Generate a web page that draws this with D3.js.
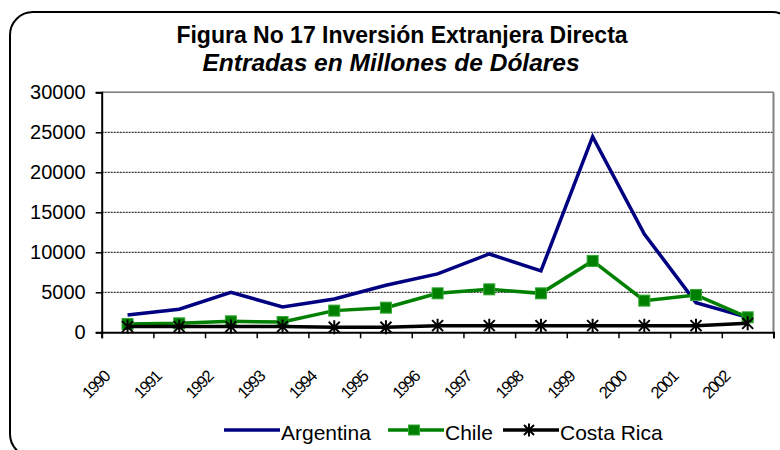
<!DOCTYPE html>
<html>
<head>
<meta charset="utf-8">
<script src="https://cdn.jsdelivr.net/npm/d3@7"></script>
<style>
  body { margin: 0; background: #fff; }
  svg { display: block; font-family: "Liberation Sans", Arial, sans-serif; }
</style>
</head>
<body>
<div id="chart"></div>
<script>
const years = ["1990","1991","1992","1993","1994","1995","1996","1997","1998","1999","2000","2001","2002"];
const argentina = [2170, 2880, 5000, 3170, 4170, 5880, 7300, 9790, 7670, 24460, 12290, 3710, 1870];
const chile = [1040, 1120, 1370, 1290, 2710, 3080, 4870, 5370, 4870, 8920, 3960, 4670, 1870];
const costaRica = [710, 710, 710, 710, 630, 630, 830, 830, 830, 830, 830, 830, 1120];
const yTicks = [0, 5000, 10000, 15000, 20000, 25000, 30000];
const seriesNames = ["Argentina", "Chile", "Costa Rica"];

const width = 780, height = 450;
const plot = { left: 101.7, right: 773.5, top: 92.3, bottom: 332.3 };

const svg = d3.select("#chart").append("svg")
    .attr("width", width)
    .attr("height", height);

// outer frame with rounded corners
svg.append("rect")
    .attr("x", 10).attr("y", 12)
    .attr("width", 785).attr("height", 445)
    .attr("rx", 23).attr("ry", 23)
    .attr("fill", "#fff")
    .attr("stroke", "#000")
    .attr("stroke-width", 2);

// titles
svg.append("text")
    .attr("x", 402).attr("y", 43)
    .attr("text-anchor", "middle")
    .attr("font-size", "23px")
    .attr("font-weight", "bold")
    .text("Figura No 17 Inversión Extranjera Directa");

svg.append("text")
    .attr("x", 391).attr("y", 71)
    .attr("text-anchor", "middle")
    .attr("font-size", "24.5px")
    .attr("font-weight", "bold")
    .attr("font-style", "italic")
    .text("Entradas en Millones de Dólares");

const x = d3.scaleBand().domain(years).range([plot.left, plot.right]).padding(0);
const xEdge = d3.scaleLinear().domain([0, years.length]).range([plot.left, plot.right]);
const y = d3.scaleLinear().domain([0, 30000]).range([plot.bottom, plot.top]);
const cx = d => x(d) + x.bandwidth() / 2;

// gridlines
svg.append("g")
    .selectAll("line")
    .data(yTicks.filter(t => t > 0))
    .enter().append("line")
    .attr("x1", plot.left).attr("x2", plot.right)
    .attr("y1", d => y(d)).attr("y2", d => y(d))
    .attr("stroke", d => d === 30000 ? "#808080" : "#000")
    .attr("stroke-width", 1)
    .attr("stroke-dasharray", d => d === 30000 ? null : "2,1");

// plot border right/top in gray
svg.append("line")
    .attr("x1", plot.right).attr("x2", plot.right)
    .attr("y1", plot.top).attr("y2", plot.bottom)
    .attr("stroke", "#808080").attr("stroke-width", 2);
svg.append("line")
    .attr("x1", plot.left).attr("x2", plot.right)
    .attr("y1", plot.top).attr("y2", plot.top)
    .attr("stroke", "#808080").attr("stroke-width", 1.5);

// y axis
const yAxis = svg.append("g")
    .attr("transform", `translate(${plot.left},0)`)
    .call(d3.axisLeft(y).tickValues(yTicks).tickSize(6).tickPadding(10).tickFormat(d3.format("d")));
yAxis.select(".domain").attr("stroke-width", 2);
yAxis.selectAll(".tick line").attr("stroke-width", 1.5);
yAxis.selectAll("text")
    .attr("font-size", "20px")
    .attr("font-family", "Liberation Sans, Arial, sans-serif")
    .attr("fill", "#000");

// x axis (ticks between categories)
const xAxis = svg.append("g")
    .attr("transform", `translate(0,${plot.bottom})`)
    .call(d3.axisBottom(xEdge).tickValues(d3.range(0, years.length + 1)).tickSize(6).tickFormat(""));
xAxis.select(".domain").attr("stroke-width", 2);
xAxis.selectAll(".tick line").attr("stroke-width", 1.5);

svg.append("g")
    .selectAll("text")
    .data(years)
    .enter().append("text")
    .attr("transform", d => `translate(${cx(d) - 17},378) rotate(-45)`)
    .attr("text-anchor", "end")
    .attr("font-size", "16.5px")
    .attr("letter-spacing", "-1.6px")
    .text(d => d);

// series lines
const line = d3.line().x((d, i) => cx(years[i])).y(d => y(d));

svg.append("path").datum(argentina)
    .attr("d", line).attr("fill", "none")
    .attr("stroke", "#000080").attr("stroke-width", 3.5).attr("stroke-linejoin", "miter");

svg.append("path").datum(chile)
    .attr("d", line).attr("fill", "none")
    .attr("stroke", "#008000").attr("stroke-width", 3.5);

svg.append("g").selectAll("rect")
    .data(chile)
    .enter().append("rect")
    .attr("x", (d, i) => cx(years[i]) - 5.5)
    .attr("y", d => y(d) - 5.5)
    .attr("width", 11).attr("height", 11)
    .attr("fill", "#008000")
    .attr("stroke", "#33a833").attr("stroke-width", 1);

svg.append("path").datum(costaRica)
    .attr("d", line).attr("fill", "none")
    .attr("stroke", "#000").attr("stroke-width", 3.5);

function starPath(px, py, r) {
    return `M${px - r},${py - r}L${px + r},${py + r}M${px + r},${py - r}L${px - r},${py + r}M${px},${py - r - 1.5}L${px},${py + r + 1.5}`;
}

svg.append("g").selectAll("path")
    .data(costaRica)
    .enter().append("path")
    .attr("d", (d, i) => starPath(cx(years[i]), y(d), 5.5))
    .attr("stroke", "#000").attr("stroke-width", 2).attr("fill", "none");

// legend
const legendItems = [
    { name: seriesNames[0], color: "#000080", x0: 224, marker: null },
    { name: seriesNames[1], color: "#008000", x0: 388, marker: "square" },
    { name: seriesNames[2], color: "#000", x0: 503, marker: "star" }
];
const legendY = 430;
const legend = svg.append("g");
legendItems.forEach(it => {
    legend.append("line")
        .attr("x1", it.x0).attr("x2", it.x0 + 56)
        .attr("y1", legendY).attr("y2", legendY)
        .attr("stroke", it.color).attr("stroke-width", 3.5);
    const mx = it.x0 + 26;
    if (it.marker === "square") {
        legend.append("rect")
            .attr("x", mx - 5.5).attr("y", legendY - 5)
            .attr("width", 11).attr("height", 10)
            .attr("fill", "#008000").attr("stroke", "#33a833");
    } else if (it.marker === "star") {
        legend.append("path")
            .attr("d", starPath(mx, legendY, 5))
            .attr("stroke", "#000").attr("stroke-width", 2);
    }
    legend.append("text")
        .attr("x", it.x0 + 57).attr("y", legendY + 10)
        .attr("font-size", "21px")
        .text(it.name);
});
</script>
</body>
</html>
